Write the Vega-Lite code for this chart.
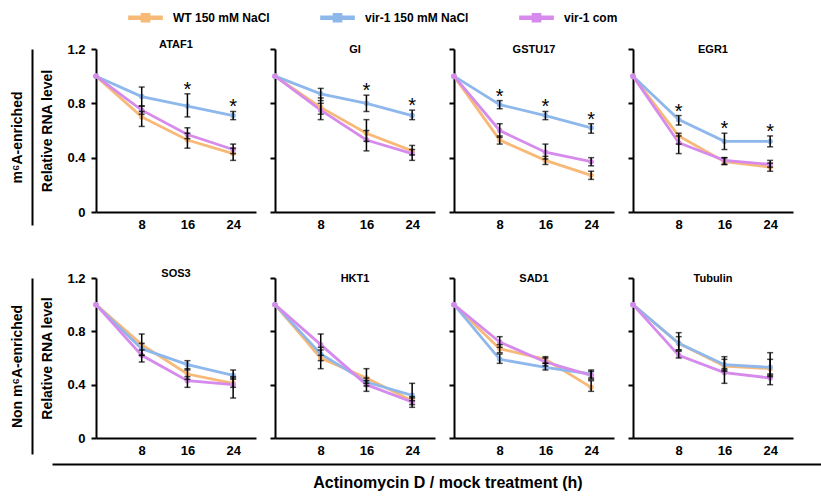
{
  "$schema": "https://vega.github.io/schema/vega-lite/v6.json",
  "padding": {"left": 10, "top": 0, "right": 0, "bottom": 5},
  "background": "white",
  "data": {"values": [
    {"gene":"ATAF1","group":"WT 150 mM NaCl","t":0,"mean":1,"lo":null,"hi":null,"sig":false},
    {"gene":"ATAF1","group":"WT 150 mM NaCl","t":8,"mean":0.70,"lo":0.63,"hi":0.74,"sig":false},
    {"gene":"ATAF1","group":"WT 150 mM NaCl","t":16,"mean":0.53,"lo":0.47,"hi":0.58,"sig":false},
    {"gene":"ATAF1","group":"WT 150 mM NaCl","t":24,"mean":0.43,"lo":0.38,"hi":0.47,"sig":false},
    {"gene":"ATAF1","group":"vir-1 150 mM NaCl","t":0,"mean":1,"lo":null,"hi":null,"sig":false},
    {"gene":"ATAF1","group":"vir-1 150 mM NaCl","t":8,"mean":0.85,"lo":0.78,"hi":0.92,"sig":false},
    {"gene":"ATAF1","group":"vir-1 150 mM NaCl","t":16,"mean":0.78,"lo":0.70,"hi":0.87,"sig":true},
    {"gene":"ATAF1","group":"vir-1 150 mM NaCl","t":24,"mean":0.71,"lo":0.68,"hi":0.74,"sig":true},
    {"gene":"ATAF1","group":"vir-1 com","t":0,"mean":1,"lo":null,"hi":null,"sig":false},
    {"gene":"ATAF1","group":"vir-1 com","t":8,"mean":0.75,"lo":0.72,"hi":0.78,"sig":false},
    {"gene":"ATAF1","group":"vir-1 com","t":16,"mean":0.57,"lo":0.54,"hi":0.62,"sig":false},
    {"gene":"ATAF1","group":"vir-1 com","t":24,"mean":0.46,"lo":0.43,"hi":0.50,"sig":false},

    {"gene":"GI","group":"WT 150 mM NaCl","t":0,"mean":1,"lo":null,"hi":null,"sig":false},
    {"gene":"GI","group":"WT 150 mM NaCl","t":8,"mean":0.77,"lo":0.72,"hi":0.84,"sig":false},
    {"gene":"GI","group":"WT 150 mM NaCl","t":16,"mean":0.58,"lo":0.52,"hi":0.68,"sig":false},
    {"gene":"GI","group":"WT 150 mM NaCl","t":24,"mean":0.45,"lo":0.42,"hi":0.49,"sig":false},
    {"gene":"GI","group":"vir-1 150 mM NaCl","t":0,"mean":1,"lo":null,"hi":null,"sig":false},
    {"gene":"GI","group":"vir-1 150 mM NaCl","t":8,"mean":0.87,"lo":0.82,"hi":0.91,"sig":false},
    {"gene":"GI","group":"vir-1 150 mM NaCl","t":16,"mean":0.80,"lo":0.74,"hi":0.86,"sig":true},
    {"gene":"GI","group":"vir-1 150 mM NaCl","t":24,"mean":0.71,"lo":0.68,"hi":0.75,"sig":true},
    {"gene":"GI","group":"vir-1 com","t":0,"mean":1,"lo":null,"hi":null,"sig":false},
    {"gene":"GI","group":"vir-1 com","t":8,"mean":0.75,"lo":0.68,"hi":0.80,"sig":false},
    {"gene":"GI","group":"vir-1 com","t":16,"mean":0.53,"lo":0.45,"hi":0.60,"sig":false},
    {"gene":"GI","group":"vir-1 com","t":24,"mean":0.43,"lo":0.38,"hi":0.46,"sig":false},

    {"gene":"GSTU17","group":"WT 150 mM NaCl","t":0,"mean":1,"lo":null,"hi":null,"sig":false},
    {"gene":"GSTU17","group":"WT 150 mM NaCl","t":8,"mean":0.53,"lo":0.50,"hi":0.56,"sig":false},
    {"gene":"GSTU17","group":"WT 150 mM NaCl","t":16,"mean":0.38,"lo":0.35,"hi":0.41,"sig":false},
    {"gene":"GSTU17","group":"WT 150 mM NaCl","t":24,"mean":0.27,"lo":0.24,"hi":0.30,"sig":false},
    {"gene":"GSTU17","group":"vir-1 150 mM NaCl","t":0,"mean":1,"lo":null,"hi":null,"sig":false},
    {"gene":"GSTU17","group":"vir-1 150 mM NaCl","t":8,"mean":0.79,"lo":0.76,"hi":0.82,"sig":true},
    {"gene":"GSTU17","group":"vir-1 150 mM NaCl","t":16,"mean":0.71,"lo":0.68,"hi":0.74,"sig":true},
    {"gene":"GSTU17","group":"vir-1 150 mM NaCl","t":24,"mean":0.62,"lo":0.58,"hi":0.65,"sig":true},
    {"gene":"GSTU17","group":"vir-1 com","t":0,"mean":1,"lo":null,"hi":null,"sig":false},
    {"gene":"GSTU17","group":"vir-1 com","t":8,"mean":0.60,"lo":0.55,"hi":0.65,"sig":false},
    {"gene":"GSTU17","group":"vir-1 com","t":16,"mean":0.44,"lo":0.39,"hi":0.50,"sig":false},
    {"gene":"GSTU17","group":"vir-1 com","t":24,"mean":0.37,"lo":0.34,"hi":0.40,"sig":false},

    {"gene":"EGR1","group":"WT 150 mM NaCl","t":0,"mean":1,"lo":null,"hi":null,"sig":false},
    {"gene":"EGR1","group":"WT 150 mM NaCl","t":8,"mean":0.56,"lo":0.50,"hi":0.58,"sig":false},
    {"gene":"EGR1","group":"WT 150 mM NaCl","t":16,"mean":0.37,"lo":0.35,"hi":0.40,"sig":false},
    {"gene":"EGR1","group":"WT 150 mM NaCl","t":24,"mean":0.33,"lo":0.30,"hi":0.36,"sig":false},
    {"gene":"EGR1","group":"vir-1 150 mM NaCl","t":0,"mean":1,"lo":null,"hi":null,"sig":false},
    {"gene":"EGR1","group":"vir-1 150 mM NaCl","t":8,"mean":0.68,"lo":0.64,"hi":0.71,"sig":true},
    {"gene":"EGR1","group":"vir-1 150 mM NaCl","t":16,"mean":0.52,"lo":0.46,"hi":0.58,"sig":true},
    {"gene":"EGR1","group":"vir-1 150 mM NaCl","t":24,"mean":0.52,"lo":0.48,"hi":0.56,"sig":true},
    {"gene":"EGR1","group":"vir-1 com","t":0,"mean":1,"lo":null,"hi":null,"sig":false},
    {"gene":"EGR1","group":"vir-1 com","t":8,"mean":0.51,"lo":0.43,"hi":0.56,"sig":false},
    {"gene":"EGR1","group":"vir-1 com","t":16,"mean":0.38,"lo":0.35,"hi":0.40,"sig":false},
    {"gene":"EGR1","group":"vir-1 com","t":24,"mean":0.35,"lo":0.33,"hi":0.38,"sig":false},

    {"gene":"SOS3","group":"WT 150 mM NaCl","t":0,"mean":1,"lo":null,"hi":null,"sig":false},
    {"gene":"SOS3","group":"WT 150 mM NaCl","t":8,"mean":0.70,"lo":0.62,"hi":0.78,"sig":false},
    {"gene":"SOS3","group":"WT 150 mM NaCl","t":16,"mean":0.48,"lo":0.44,"hi":0.52,"sig":false},
    {"gene":"SOS3","group":"WT 150 mM NaCl","t":24,"mean":0.41,"lo":0.38,"hi":0.45,"sig":false},
    {"gene":"SOS3","group":"vir-1 150 mM NaCl","t":0,"mean":1,"lo":null,"hi":null,"sig":false},
    {"gene":"SOS3","group":"vir-1 150 mM NaCl","t":8,"mean":0.67,"lo":0.62,"hi":0.71,"sig":false},
    {"gene":"SOS3","group":"vir-1 150 mM NaCl","t":16,"mean":0.55,"lo":0.51,"hi":0.58,"sig":false},
    {"gene":"SOS3","group":"vir-1 150 mM NaCl","t":24,"mean":0.47,"lo":0.44,"hi":0.51,"sig":false},
    {"gene":"SOS3","group":"vir-1 com","t":0,"mean":1,"lo":null,"hi":null,"sig":false},
    {"gene":"SOS3","group":"vir-1 com","t":8,"mean":0.62,"lo":0.57,"hi":0.66,"sig":false},
    {"gene":"SOS3","group":"vir-1 com","t":16,"mean":0.43,"lo":0.38,"hi":0.46,"sig":false},
    {"gene":"SOS3","group":"vir-1 com","t":24,"mean":0.40,"lo":0.30,"hi":0.46,"sig":false},

    {"gene":"HKT1","group":"WT 150 mM NaCl","t":0,"mean":1,"lo":null,"hi":null,"sig":false},
    {"gene":"HKT1","group":"WT 150 mM NaCl","t":8,"mean":0.60,"lo":0.52,"hi":0.66,"sig":false},
    {"gene":"HKT1","group":"WT 150 mM NaCl","t":16,"mean":0.45,"lo":0.41,"hi":0.52,"sig":false},
    {"gene":"HKT1","group":"WT 150 mM NaCl","t":24,"mean":0.28,"lo":0.25,"hi":0.31,"sig":false},
    {"gene":"HKT1","group":"vir-1 150 mM NaCl","t":0,"mean":1,"lo":null,"hi":null,"sig":false},
    {"gene":"HKT1","group":"vir-1 150 mM NaCl","t":8,"mean":0.63,"lo":0.58,"hi":0.68,"sig":false},
    {"gene":"HKT1","group":"vir-1 150 mM NaCl","t":16,"mean":0.42,"lo":0.39,"hi":0.45,"sig":false},
    {"gene":"HKT1","group":"vir-1 150 mM NaCl","t":24,"mean":0.32,"lo":0.28,"hi":0.41,"sig":false},
    {"gene":"HKT1","group":"vir-1 com","t":0,"mean":1,"lo":null,"hi":null,"sig":false},
    {"gene":"HKT1","group":"vir-1 com","t":8,"mean":0.70,"lo":0.62,"hi":0.78,"sig":false},
    {"gene":"HKT1","group":"vir-1 com","t":16,"mean":0.40,"lo":0.35,"hi":0.43,"sig":false},
    {"gene":"HKT1","group":"vir-1 com","t":24,"mean":0.27,"lo":0.23,"hi":0.30,"sig":false},

    {"gene":"SAD1","group":"WT 150 mM NaCl","t":0,"mean":1,"lo":null,"hi":null,"sig":false},
    {"gene":"SAD1","group":"WT 150 mM NaCl","t":8,"mean":0.67,"lo":0.64,"hi":0.70,"sig":false},
    {"gene":"SAD1","group":"WT 150 mM NaCl","t":16,"mean":0.59,"lo":0.56,"hi":0.61,"sig":false},
    {"gene":"SAD1","group":"WT 150 mM NaCl","t":24,"mean":0.38,"lo":0.35,"hi":0.43,"sig":false},
    {"gene":"SAD1","group":"vir-1 150 mM NaCl","t":0,"mean":1,"lo":null,"hi":null,"sig":false},
    {"gene":"SAD1","group":"vir-1 150 mM NaCl","t":8,"mean":0.59,"lo":0.56,"hi":0.63,"sig":false},
    {"gene":"SAD1","group":"vir-1 150 mM NaCl","t":16,"mean":0.53,"lo":0.51,"hi":0.56,"sig":false},
    {"gene":"SAD1","group":"vir-1 150 mM NaCl","t":24,"mean":0.48,"lo":0.45,"hi":0.51,"sig":false},
    {"gene":"SAD1","group":"vir-1 com","t":0,"mean":1,"lo":null,"hi":null,"sig":false},
    {"gene":"SAD1","group":"vir-1 com","t":8,"mean":0.72,"lo":0.68,"hi":0.76,"sig":false},
    {"gene":"SAD1","group":"vir-1 com","t":16,"mean":0.57,"lo":0.54,"hi":0.60,"sig":false},
    {"gene":"SAD1","group":"vir-1 com","t":24,"mean":0.47,"lo":0.44,"hi":0.50,"sig":false},

    {"gene":"Tubulin","group":"WT 150 mM NaCl","t":0,"mean":1,"lo":null,"hi":null,"sig":false},
    {"gene":"Tubulin","group":"WT 150 mM NaCl","t":8,"mean":0.71,"lo":0.66,"hi":0.79,"sig":false},
    {"gene":"Tubulin","group":"WT 150 mM NaCl","t":16,"mean":0.54,"lo":0.50,"hi":0.61,"sig":false},
    {"gene":"Tubulin","group":"WT 150 mM NaCl","t":24,"mean":0.52,"lo":0.46,"hi":0.64,"sig":false},
    {"gene":"Tubulin","group":"vir-1 150 mM NaCl","t":0,"mean":1,"lo":null,"hi":null,"sig":false},
    {"gene":"Tubulin","group":"vir-1 150 mM NaCl","t":8,"mean":0.71,"lo":0.66,"hi":0.76,"sig":false},
    {"gene":"Tubulin","group":"vir-1 150 mM NaCl","t":16,"mean":0.55,"lo":0.51,"hi":0.59,"sig":false},
    {"gene":"Tubulin","group":"vir-1 150 mM NaCl","t":24,"mean":0.53,"lo":0.47,"hi":0.59,"sig":false},
    {"gene":"Tubulin","group":"vir-1 com","t":0,"mean":1,"lo":null,"hi":null,"sig":false},
    {"gene":"Tubulin","group":"vir-1 com","t":8,"mean":0.62,"lo":0.60,"hi":0.65,"sig":false},
    {"gene":"Tubulin","group":"vir-1 com","t":16,"mean":0.49,"lo":0.41,"hi":0.52,"sig":false},
    {"gene":"Tubulin","group":"vir-1 com","t":24,"mean":0.45,"lo":0.40,"hi":0.48,"sig":false}
  ]},
  "vconcat": [
    {
      "spacing": 37,
      "vconcat": [
        {
          "spacing": 7,
          "hconcat": [
            {"width": 1, "height": 176, "data": {"values": [{"v": 0}]}, "mark": {"type": "tick", "opacity": 0},
             "encoding": {"y": {"field": "v", "type": "quantitative", "scale": {"domain": [0, 1]},
               "axis": {"title": "m⁶A-enriched", "labels": false, "ticks": false, "titlePadding": 8}}}},
            {
              "spacing": 13,
              "hconcat": [
                {"width": 160, "height": 163, "title": {"text": "ATAF1"},
                 "transform": [{"filter": "datum.gene === 'ATAF1'"}],
                 "encoding": {"x": {"field": "t", "type": "quantitative", "scale": {"domain": [0, 28]}, "axis": {"values": [8, 16, 24]}, "title": null}},
                 "layer": [
                   {"mark": {"type": "line", "strokeWidth": 2.8}, "encoding": {"y": {"field": "mean", "type": "quantitative", "scale": {"domain": [0, 1.2]}, "title": "Relative RNA level", "axis": {"values": [0, 0.4, 0.8, 1.2], "labelExpr": "datum.value == 0 ? '0' : format(datum.value, '.1f')"}}, "color": {"field": "group", "type": "nominal", "scale": {"domain": ["WT 150 mM NaCl", "vir-1 150 mM NaCl", "vir-1 com"], "range": ["#F7B977", "#8EB8EC", "#D68BEC"]}, "title": null}}},
                   {"mark": {"type": "point", "filled": true, "size": 30, "opacity": 1}, "encoding": {"y": {"field": "mean", "type": "quantitative", "title": "Relative RNA level"}, "color": {"field": "group", "type": "nominal", "title": null}}},
                   {"transform": [{"filter": "isValid(datum.lo)"}], "mark": {"type": "errorbar", "color": "black", "thickness": 1.5, "ticks": {"size": 6, "color": "black"}, "rule": {"color": "black"}}, "encoding": {"y": {"field": "lo", "type": "quantitative", "title": "Relative RNA level"}, "y2": {"field": "hi"}}},
                   {"transform": [{"filter": "datum.sig"}], "mark": {"type": "text", "text": "*", "fontSize": 20, "baseline": "middle", "dy": -4, "color": "black"}, "encoding": {"y": {"field": "hi", "type": "quantitative", "title": "Relative RNA level"}}}
                 ]},
                {"width": 160, "height": 163, "title": {"text": "GI"},
                 "transform": [{"filter": "datum.gene === 'GI'"}],
                 "encoding": {"x": {"field": "t", "type": "quantitative", "scale": {"domain": [0, 28]}, "axis": {"values": [8, 16, 24]}, "title": null}},
                 "layer": [
                   {"mark": {"type": "line", "strokeWidth": 2.8}, "encoding": {"y": {"field": "mean", "type": "quantitative", "scale": {"domain": [0, 1.2]}, "axis": {"values": [0, 0.4, 0.8, 1.2], "title": null, "labels": false}}, "color": {"field": "group", "type": "nominal", "title": null}}},
                   {"mark": {"type": "point", "filled": true, "size": 30, "opacity": 1}, "encoding": {"y": {"field": "mean", "type": "quantitative"}, "color": {"field": "group", "type": "nominal", "title": null}}},
                   {"transform": [{"filter": "isValid(datum.lo)"}], "mark": {"type": "errorbar", "color": "black", "thickness": 1.5, "ticks": {"size": 6, "color": "black"}, "rule": {"color": "black"}}, "encoding": {"y": {"field": "lo", "type": "quantitative"}, "y2": {"field": "hi"}}},
                   {"transform": [{"filter": "datum.sig"}], "mark": {"type": "text", "text": "*", "fontSize": 20, "baseline": "middle", "dy": -4, "color": "black"}, "encoding": {"y": {"field": "hi", "type": "quantitative"}}}
                 ]},
                {"width": 160, "height": 163, "title": {"text": "GSTU17"},
                 "transform": [{"filter": "datum.gene === 'GSTU17'"}],
                 "encoding": {"x": {"field": "t", "type": "quantitative", "scale": {"domain": [0, 28]}, "axis": {"values": [8, 16, 24]}, "title": null}},
                 "layer": [
                   {"mark": {"type": "line", "strokeWidth": 2.8}, "encoding": {"y": {"field": "mean", "type": "quantitative", "scale": {"domain": [0, 1.2]}, "axis": {"values": [0, 0.4, 0.8, 1.2], "title": null, "labels": false}}, "color": {"field": "group", "type": "nominal", "title": null}}},
                   {"mark": {"type": "point", "filled": true, "size": 30, "opacity": 1}, "encoding": {"y": {"field": "mean", "type": "quantitative"}, "color": {"field": "group", "type": "nominal", "title": null}}},
                   {"transform": [{"filter": "isValid(datum.lo)"}], "mark": {"type": "errorbar", "color": "black", "thickness": 1.5, "ticks": {"size": 6, "color": "black"}, "rule": {"color": "black"}}, "encoding": {"y": {"field": "lo", "type": "quantitative"}, "y2": {"field": "hi"}}},
                   {"transform": [{"filter": "datum.sig"}], "mark": {"type": "text", "text": "*", "fontSize": 20, "baseline": "middle", "dy": -4, "color": "black"}, "encoding": {"y": {"field": "hi", "type": "quantitative"}}}
                 ]},
                {"width": 160, "height": 163, "title": {"text": "EGR1"},
                 "transform": [{"filter": "datum.gene === 'EGR1'"}],
                 "encoding": {"x": {"field": "t", "type": "quantitative", "scale": {"domain": [0, 28]}, "axis": {"values": [8, 16, 24]}, "title": null}},
                 "layer": [
                   {"mark": {"type": "line", "strokeWidth": 2.8}, "encoding": {"y": {"field": "mean", "type": "quantitative", "scale": {"domain": [0, 1.2]}, "axis": {"values": [0, 0.4, 0.8, 1.2], "title": null, "labels": false}}, "color": {"field": "group", "type": "nominal", "title": null}}},
                   {"mark": {"type": "point", "filled": true, "size": 30, "opacity": 1}, "encoding": {"y": {"field": "mean", "type": "quantitative"}, "color": {"field": "group", "type": "nominal", "title": null}}},
                   {"transform": [{"filter": "isValid(datum.lo)"}], "mark": {"type": "errorbar", "color": "black", "thickness": 1.5, "ticks": {"size": 6, "color": "black"}, "rule": {"color": "black"}}, "encoding": {"y": {"field": "lo", "type": "quantitative"}, "y2": {"field": "hi"}}},
                   {"transform": [{"filter": "datum.sig"}], "mark": {"type": "text", "text": "*", "fontSize": 20, "baseline": "middle", "dy": -4, "color": "black"}, "encoding": {"y": {"field": "hi", "type": "quantitative"}}}
                 ]}
              ]
            }
          ]
        },
        {
          "spacing": 7,
          "hconcat": [
            {"width": 1, "height": 176, "data": {"values": [{"v": 0}]}, "mark": {"type": "tick", "opacity": 0},
             "encoding": {"y": {"field": "v", "type": "quantitative", "scale": {"domain": [0, 1]},
               "axis": {"title": "Non m⁶A-enriched", "labels": false, "ticks": false, "titlePadding": 8}}}},
            {
              "spacing": 13,
              "hconcat": [
                {"width": 160, "height": 160, "title": {"text": "SOS3"},
                 "transform": [{"filter": "datum.gene === 'SOS3'"}],
                 "encoding": {"x": {"field": "t", "type": "quantitative", "scale": {"domain": [0, 28]}, "axis": {"values": [8, 16, 24]}, "title": null}},
                 "layer": [
                   {"mark": {"type": "line", "strokeWidth": 2.8}, "encoding": {"y": {"field": "mean", "type": "quantitative", "scale": {"domain": [0, 1.2]}, "title": "Relative RNA level", "axis": {"values": [0, 0.4, 0.8, 1.2], "labelExpr": "datum.value == 0 ? '0' : format(datum.value, '.1f')"}}, "color": {"field": "group", "type": "nominal", "title": null}}},
                   {"mark": {"type": "point", "filled": true, "size": 30, "opacity": 1}, "encoding": {"y": {"field": "mean", "type": "quantitative", "title": "Relative RNA level"}, "color": {"field": "group", "type": "nominal", "title": null}}},
                   {"transform": [{"filter": "isValid(datum.lo)"}], "mark": {"type": "errorbar", "color": "black", "thickness": 1.5, "ticks": {"size": 6, "color": "black"}, "rule": {"color": "black"}}, "encoding": {"y": {"field": "lo", "type": "quantitative", "title": "Relative RNA level"}, "y2": {"field": "hi"}}}
                 ]},
                {"width": 160, "height": 160, "title": {"text": "HKT1"},
                 "transform": [{"filter": "datum.gene === 'HKT1'"}],
                 "encoding": {"x": {"field": "t", "type": "quantitative", "scale": {"domain": [0, 28]}, "axis": {"values": [8, 16, 24]}, "title": null}},
                 "layer": [
                   {"mark": {"type": "line", "strokeWidth": 2.8}, "encoding": {"y": {"field": "mean", "type": "quantitative", "scale": {"domain": [0, 1.2]}, "axis": {"values": [0, 0.4, 0.8, 1.2], "title": null, "labels": false}}, "color": {"field": "group", "type": "nominal", "title": null}}},
                   {"mark": {"type": "point", "filled": true, "size": 30, "opacity": 1}, "encoding": {"y": {"field": "mean", "type": "quantitative"}, "color": {"field": "group", "type": "nominal", "title": null}}},
                   {"transform": [{"filter": "isValid(datum.lo)"}], "mark": {"type": "errorbar", "color": "black", "thickness": 1.5, "ticks": {"size": 6, "color": "black"}, "rule": {"color": "black"}}, "encoding": {"y": {"field": "lo", "type": "quantitative"}, "y2": {"field": "hi"}}}
                 ]},
                {"width": 160, "height": 160, "title": {"text": "SAD1"},
                 "transform": [{"filter": "datum.gene === 'SAD1'"}],
                 "encoding": {"x": {"field": "t", "type": "quantitative", "scale": {"domain": [0, 28]}, "axis": {"values": [8, 16, 24]}, "title": null}},
                 "layer": [
                   {"mark": {"type": "line", "strokeWidth": 2.8}, "encoding": {"y": {"field": "mean", "type": "quantitative", "scale": {"domain": [0, 1.2]}, "axis": {"values": [0, 0.4, 0.8, 1.2], "title": null, "labels": false}}, "color": {"field": "group", "type": "nominal", "title": null}}},
                   {"mark": {"type": "point", "filled": true, "size": 30, "opacity": 1}, "encoding": {"y": {"field": "mean", "type": "quantitative"}, "color": {"field": "group", "type": "nominal", "title": null}}},
                   {"transform": [{"filter": "isValid(datum.lo)"}], "mark": {"type": "errorbar", "color": "black", "thickness": 1.5, "ticks": {"size": 6, "color": "black"}, "rule": {"color": "black"}}, "encoding": {"y": {"field": "lo", "type": "quantitative"}, "y2": {"field": "hi"}}}
                 ]},
                {"width": 160, "height": 160, "title": {"text": "Tubulin"},
                 "transform": [{"filter": "datum.gene === 'Tubulin'"}],
                 "encoding": {"x": {"field": "t", "type": "quantitative", "scale": {"domain": [0, 28]}, "axis": {"values": [8, 16, 24]}, "title": null}},
                 "layer": [
                   {"mark": {"type": "line", "strokeWidth": 2.8}, "encoding": {"y": {"field": "mean", "type": "quantitative", "scale": {"domain": [0, 1.2]}, "axis": {"values": [0, 0.4, 0.8, 1.2], "title": null, "labels": false}}, "color": {"field": "group", "type": "nominal", "title": null}}},
                   {"mark": {"type": "point", "filled": true, "size": 30, "opacity": 1}, "encoding": {"y": {"field": "mean", "type": "quantitative"}, "color": {"field": "group", "type": "nominal", "title": null}}},
                   {"transform": [{"filter": "isValid(datum.lo)"}], "mark": {"type": "errorbar", "color": "black", "thickness": 1.5, "ticks": {"size": 6, "color": "black"}, "rule": {"color": "black"}}, "encoding": {"y": {"field": "lo", "type": "quantitative"}, "y2": {"field": "hi"}}}
                 ]}
              ]
            }
          ]
        }
      ]
    },
    {"width": 811, "height": 1, "data": {"values": [{"v": 0}]}, "mark": {"type": "tick", "opacity": 0},
     "encoding": {"x": {"field": "v", "type": "quantitative", "scale": {"domain": [0, 1], "rangeMin": 20},
       "axis": {"title": "Actinomycin D / mock treatment (h)", "labels": false, "ticks": false, "titleFontSize": 16, "titlePadding": 10}}}}
  ],
  "spacing": 6,
  "config": {
    "font": "Liberation Sans",
    "view": {"stroke": null},
    "axis": {"domainColor": "black", "domainWidth": 2, "tickColor": "black", "tickWidth": 2, "labelColor": "black", "titleColor": "black", "grid": false, "labelFont": "Liberation Sans", "titleFont": "Liberation Sans", "labelFontWeight": "bold", "titleFontWeight": "bold", "labelFontSize": 13, "titleFontSize": 14},
    "axisX": {"ticks": false, "labelPadding": 6},
    "axisY": {"tickSize": 5, "labelPadding": 6, "titlePadding": 12},
    "title": {"fontSize": 11, "fontWeight": "bold", "offset": -7, "font": "Liberation Sans", "anchor": "middle", "color": "black"},
    "legend": {"orient": "none", "legendX": 96, "legendY": -49, "direction": "horizontal", "columns": 3, "columnPadding": 50, "symbolType": "M-1,-0.13H1V0.13H-1Z M-0.28,-0.28H0.28V0.28H-0.28Z", "symbolSize": 1200, "symbolStrokeWidth": 0, "labelFont": "Liberation Sans", "labelFontSize": 12, "labelFontWeight": "bold", "labelColor": "black", "labelOffset": 10}
  }
}
